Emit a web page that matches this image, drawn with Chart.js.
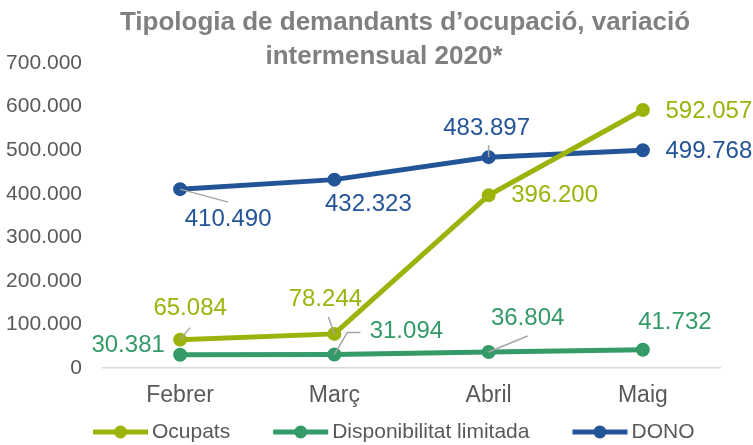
<!DOCTYPE html>
<html>
<head>
<meta charset="utf-8">
<script src="https://cdn.jsdelivr.net/npm/chart.js@4.4.0/dist/chart.umd.min.js"></script>
<style>
html, body { margin: 0; padding: 0; background: #fff; }
#wrap { width: 753px; height: 445px; }
</style>
</head>
<body>
<div id="wrap"><canvas id="demandChart" width="753" height="445"></canvas></div>
<script>
// data
const months = ['Febrer', 'Març', 'Abril', 'Maig'];
const ocupats = [65084, 78244, 396200, 592057];
const disponibilitat = [30381, 31094, 36804, 41732];
const dono = [410490, 432323, 483897, 499768];
const seriesNames = ['Ocupats', 'Disponibilitat limitada', 'DONO'];
const titleLines = ['Tipologia de demandants d’ocupació, variació', 'intermensual 2020*'];
const yMax = 700000;
const yStep = 100000;

const FONT = "'Liberation Sans', Arial, sans-serif";
const colors = ['#9bb30a', '#349a68', '#245498'];

// where each value label sits relative to its point (px)
const labelOffsets = [
    [[10, -31], [-9, -35], [66, 0], [66, 1]],
    [[-52, -9], [72, -23], [39, -34], [32, -27]],
    [[48, 30], [34, 25], [-2, -29], [66, 1]]
];
// leader lines (polyline from the point), null = none
const leaders = [
    [[[10, -12]], [[-6, -17]], null, null],
    [null, [[13, -22], [26, -22]], [[39, -16]], null],
    [[[48, 13]], null, [[0, -12]], null]
];

function fmt(v) {
    return String(v).replace(/\B(?=(\d{3})+(?!\d))/g, '.');
}

Chart.defaults.font.family = FONT;

const titlePlugin = {
    id: 'twoLineTitle',
    afterDraw(chart) {
        const ctx = chart.ctx;
        ctx.save();
        ctx.fillStyle = '#808080';
        ctx.font = 'bold 26px ' + FONT;
        ctx.textAlign = 'center';
        ctx.textBaseline = 'alphabetic';
        ctx.fillText(titleLines[0], 405, 30);
        ctx.fillText(titleLines[1], 384, 64);
        ctx.restore();
    }
};

const valueLabels = {
    id: 'valueLabels',
    afterDatasetsDraw(chart) {
        const ctx = chart.ctx;
        ctx.save();
        chart.data.datasets.forEach((ds, di) => {
            const meta = chart.getDatasetMeta(di);
            meta.data.forEach((pt, i) => {
                const lead = leaders[di][i];
                if (lead) {
                    ctx.beginPath();
                    ctx.strokeStyle = '#a6a6a6';
                    ctx.lineWidth = 1.5;
                    ctx.moveTo(pt.x, pt.y);
                    lead.forEach(p => ctx.lineTo(pt.x + p[0], pt.y + p[1]));
                    ctx.stroke();
                }
                const off = labelOffsets[di][i];
                ctx.fillStyle = colors[di];
                ctx.font = '24px ' + FONT;
                ctx.textAlign = 'center';
                ctx.textBaseline = 'middle';
                ctx.fillText(fmt(ds.data[i]), pt.x + off[0], pt.y + off[1]);
            });
        });
        ctx.restore();
    }
};

const bottomLegend = {
    id: 'bottomLegend',
    afterDraw(chart) {
        const ctx = chart.ctx;
        const y = 432;
        let x = 93;
        ctx.save();
        ctx.font = '21px ' + FONT;
        ctx.textBaseline = 'middle';
        ctx.textAlign = 'left';
        chart.data.datasets.forEach((ds, di) => {
            ctx.strokeStyle = colors[di];
            ctx.fillStyle = colors[di];
            ctx.lineWidth = 5;
            ctx.beginPath();
            ctx.moveTo(x, y);
            ctx.lineTo(x + 55, y);
            ctx.stroke();
            ctx.beginPath();
            ctx.arc(x + 27.5, y, 6.5, 0, Math.PI * 2);
            ctx.fill();
            ctx.fillStyle = '#595959';
            ctx.fillText(ds.label, x + 59, y);
            x += 59 + ctx.measureText(ds.label).width + 43;
        });
        ctx.restore();
    }
};

const seriesData = [ocupats, disponibilitat, dono];

new Chart(document.getElementById('demandChart'), {
    type: 'line',
    data: {
        labels: months,
        datasets: seriesNames.map((name, i) => ({
            label: name,
            data: seriesData[i],
            borderColor: colors[i],
            backgroundColor: colors[i],
            borderWidth: 5,
            pointRadius: 6,
            pointBorderWidth: 2,
            pointBackgroundColor: colors[i],
            pointBorderColor: colors[i],
            tension: 0,
            fill: false
        }))
    },
    options: {
        responsive: false,
        animation: false,
        devicePixelRatio: 1,
        layout: { padding: { top: 63, right: 33, bottom: 0, left: 0 } },
        plugins: {
            legend: { display: false },
            title: { display: false },
            tooltip: { enabled: false }
        },
        scales: {
            x: {
                offset: true,
                grid: { display: false, drawTicks: false },
                border: { display: true, color: '#d9d9d9', width: 1.5 },
                ticks: { color: '#595959', font: { size: 23 }, padding: 14 },
                afterFit: s => { s.height = 77; }
            },
            y: {
                min: 0,
                max: yMax,
                grid: { display: false, drawTicks: false },
                border: { display: false },
                ticks: { stepSize: yStep, color: '#595959', font: { size: 21 }, padding: 21, callback: v => fmt(v) },
                afterFit: s => { s.width = 103; }
            }
        }
    },
    plugins: [titlePlugin, valueLabels, bottomLegend]
});
</script>
</body>
</html>
